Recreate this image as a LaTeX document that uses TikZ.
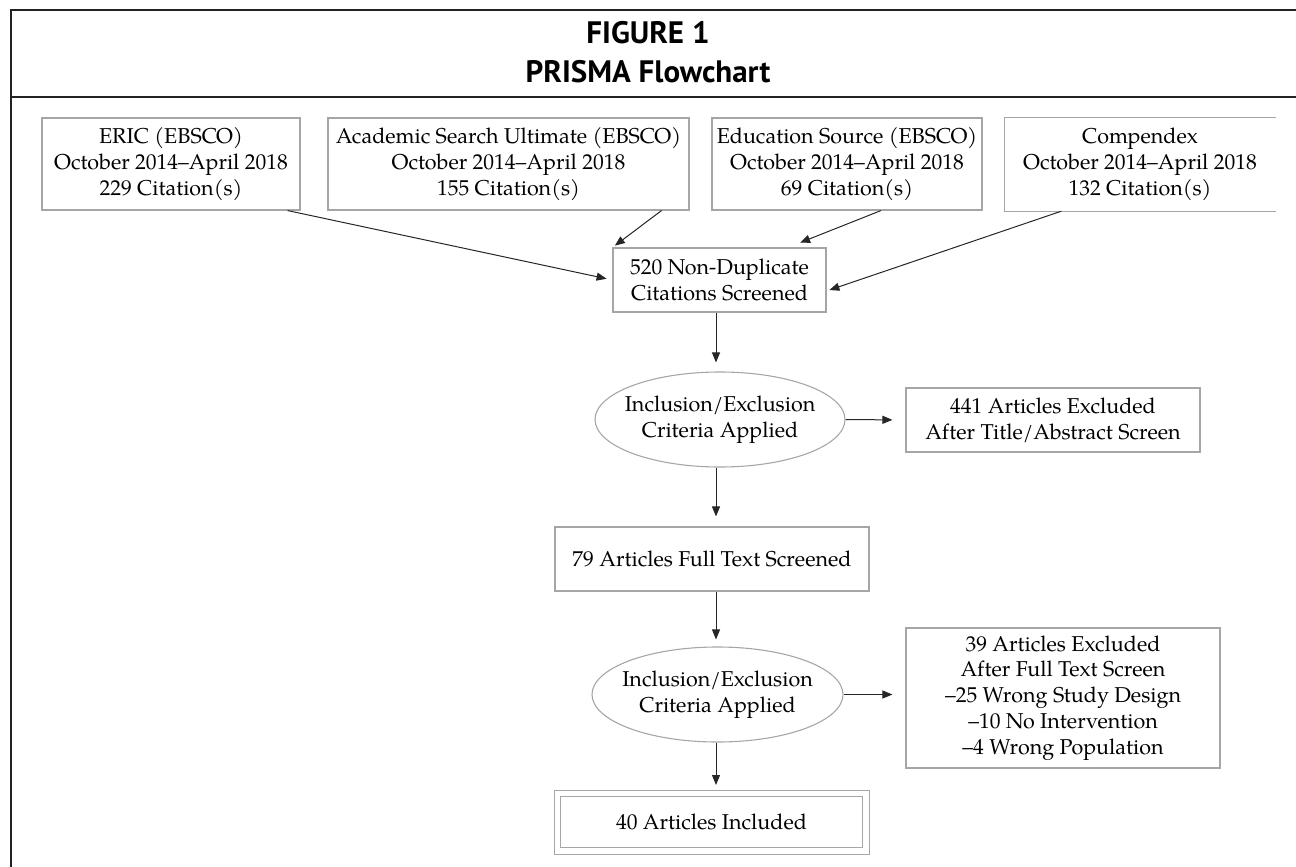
\documentclass[tikz,border=0pt]{standalone}
\usepackage{fontspec}
\setmainfont{texgyrepagella-regular.otf}
\newfontfamily\ttlfont{PT Sans}
\usetikzlibrary{arrows.meta,shapes.geometric,calc}
\definecolor{boxgray}{HTML}{A6A6A6}
\definecolor{framec}{HTML}{222222}
\newcommand\bdfont{\fontsize{21.5}{25.8}\selectfont}
\begin{document}
\begin{tikzpicture}[x=1pt,y=-1pt,
  box/.style={draw=boxgray,line width=1.1pt,rectangle,inner sep=0pt,align=center,font=\bdfont},
  nobox/.style={rectangle,inner sep=0pt,align=center,font=\bdfont},
  ellbox/.style={draw=boxgray,line width=1.1pt,ellipse,inner sep=0pt},
  lbl/.style={inner sep=0pt,align=center,font=\bdfont},
  arr/.style={-{Triangle[length=10pt,width=8pt]},line width=1pt,black!85},
  ttl/.style={inner sep=0pt,font=\ttlfont\bfseries\fontsize{31}{36}\selectfont}]
\useasboundingbox (0,0) rectangle (1296,867);
% frame
\draw[framec,line width=2pt] (1296,10) -- (11,10) -- (11,867);
\draw[framec,line width=2pt] (11,97) -- (1296,97);
\node[ttl] (t1) at (648,33) {FIGURE 1};
\node[ttl] (t2) at (648,72) {PRISMA Flowchart};
% sources
\node[box,minimum width=258pt,minimum height=92pt] (eric) at (171,164) {ERIC (EBSCO)\\October 2014--April 2018\\229 Citation(s)};
\node[box,minimum width=361pt,minimum height=92pt] (asu) at (508.5,164) {Academic Search Ultimate (EBSCO)\\October 2014--April 2018\\155 Citation(s)};
\node[box,minimum width=270pt,minimum height=92pt] (edu) at (847,164) {Education Source (EBSCO)\\October 2014--April 2018\\69 Citation(s)};
\node[nobox,minimum width=271pt,minimum height=93pt] (comp) at (1140,164.5) {Compendex\\October 2014--April 2018\\132 Citation(s)};
\draw[boxgray,line width=1.1pt] (comp.north east) -- (comp.north west) -- (comp.south west) -- (comp.south east);
% flow
\node[box,minimum width=213pt,minimum height=64pt] (n520) at (719.5,280) {520 Non-Duplicate\\Citations Screened};
\node[ellbox,minimum width=250pt,minimum height=95pt] (e1) at (720,419.5) {};
\node[lbl] (e1t) at (e1.center) {Inclusion/Exclusion\\Criteria Applied};
\node[box,minimum width=294pt,minimum height=64pt] (x1) at (1053,420) {441 Articles Excluded\\After Title/Abstract Screen};
\node[box,minimum width=314pt,minimum height=64pt] (n79) at (712,559) {79 Articles Full Text Screened};
\node[ellbox,minimum width=251pt,minimum height=95pt] (e2) at (717.5,694.5) {};
\node[lbl] (e2t) at (e2.center) {Inclusion/Exclusion\\Criteria Applied};
\node[box,minimum width=314pt,minimum height=140pt] (x2) at (1063,698) {39 Articles Excluded\\After Full Text Screen\\--25 Wrong Study Design\\--10 No Intervention\\--4 Wrong Population};
\node[box,double=white,double distance=5.5pt,line width=1pt,minimum width=308.5pt,minimum height=57.5pt] (n40) at (711.5,822) {40 Articles Included};
% connectors
\coordinate (cx) at (716,0);
\draw[arr,shorten >=6pt] ([xshift=-13pt]eric.south east) -- (n520.west);
\draw[arr,shorten >=3pt] ([xshift=-28pt]asu.south east) -- (n520.north west);
\draw[arr,shorten >=13pt] ([xshift=34pt]edu.south) -- ([xshift=68.5pt]n520.north);
\draw[arr,shorten >=3pt] ([xshift=57pt]comp.south west) -- ([yshift=-11pt]n520.east);
\draw[arr,shorten >=9pt] (n520.south -| cx) -- (e1.north -| cx);
\draw[arr,shorten >=10pt] (e1.south -| cx) -- (n79.north -| cx);
\draw[arr,shorten >=13pt] (e1.east) -- (x1.west);
\draw[arr,shorten >=7pt] (n79.south -| cx) -- (e2.north -| cx);
\draw[arr,shorten >=13pt] (e2.east) -- (e2.east -| x2.west);
\draw[arr,shorten >=4pt] (e2.south -| cx) -- ([yshift=3.75pt]n40.north -| cx);
\end{tikzpicture}
\end{document}
